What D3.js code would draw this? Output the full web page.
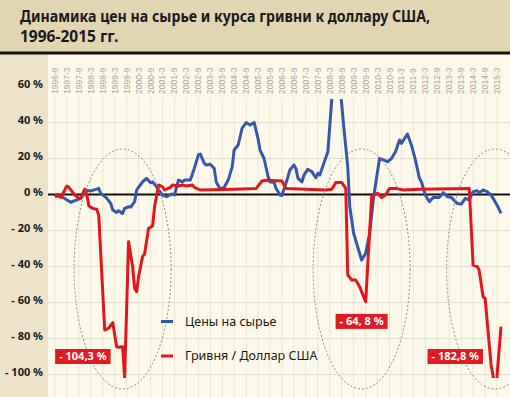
<!DOCTYPE html>
<html><head><meta charset="utf-8">
<script src="https://cdn.jsdelivr.net/npm/d3@7/dist/d3.min.js"></script>
<style>body{margin:0;background:#fdf9ea}svg{display:block}</style>
</head><body><svg id="c" width="510" height="397"></svg>
<script>
// ---- data ----
const tickLabels = ["1996-9","1997-3","1997-9","1998-3","1998-9","1999-3","1999-9","2000-3","2000-9","2001-3","2001-9","2002-3","2002-9","2003-3","2003-9","2004-3","2004-9","2005-3","2005-9","2006-3","2006-9","2007-3","2007-9","2008-3","2008-9","2009-3","2009-9","2010-3","2010-9","2011-3","2011-9","2012-3","2012-9","2013-3","2013-9","2014-3","2014-9","2015-3"];
const yTicks = [60,40,20,0,-20,-40,-60,-80,-100];

const commodity = [
["1996-09",-1],["1996-12",-1],["1997-05",-4.3],["1997-08",-3],["1997-10",-2],["1997-12",2.5],
["1998-03",2],["1998-06",3],["1998-07",3.4],["1998-08",0.6],["1998-11",-2],["1999-01",-5],
["1999-02",-8.6],["1999-04",-10],["1999-05",-9],["1999-07",-10.5],["1999-08",-7.7],["1999-10",-6.8],
["1999-11",-7],["2000-01",-4],["2000-02",2.5],["2000-03",4],["2000-05",7],["2000-07",9],
["2000-09",6.5],["2000-10",7],["2000-12",4.3],["2001-03",-0.3],["2001-05",-1.2],["2001-08",0.3],
["2001-09",-0.3],["2001-11",8],["2002-01",7],["2002-02",8],["2002-05",8],["2002-07",14.5],
["2002-09",22],["2002-10",22.5],["2002-12",17.3],["2003-01",16.4],["2003-03",16.8],["2003-05",14.5],
["2003-06",7],["2003-08",3],["2003-10",4],["2003-12",8],["2004-02",15.5],["2004-03",24.7],
["2004-05",27.5],["2004-07",36.8],["2004-09",40],["2004-11",38.6],["2005-01",40],["2005-03",31],
["2005-04",24.7],["2005-06",20],["2005-08",10],["2005-09",7],["2005-11",6.8],["2005-12",3.4],
["2006-02",-0.3],["2006-03",-0.6],["2006-05",6.2],["2006-07",13.6],["2006-09",16.4],["2006-10",14.5],
["2006-11",9],["2007-01",7],["2007-02",10.8],["2007-04",14],["2007-06",12.7],["2007-08",9.3],
["2007-09",11.8],["2007-10",10.8],["2007-12",17.3],["2008-02",23.8],["2008-04",53],["2008-06",85],
["2008-08",62],["2008-10",37.7],["2008-12",15.4],["2009-01",-6.8],["2009-03",-21.5],["2009-05",-29],
["2009-07",-36.4],["2009-09",-32.7],["2009-11",-21.5],["2010-01",-1.2],["2010-03",12.7],["2010-04",20],
["2010-06",19.2],["2010-08",18.2],["2010-10",20],["2010-12",23.8],["2011-02",30.3],["2011-03",28.4],
["2011-06",33.6],["2011-08",27.5],["2011-10",19.2],["2011-12",9],["2012-01",7],["2012-03",-0.3],
["2012-05",-4],["2012-07",-1.6],["2012-10",-1.6],["2012-12",1],["2013-02",-1.2],["2013-04",-1.6],
["2013-07",-5],["2013-09",-5.3],["2013-11",-2.1],["2014-01",-3],["2014-03",1.6],["2014-05",2.1],
["2014-06",1],["2014-08",2.5],["2014-10",1.6],["2014-12",-0.3],["2015-03",-5.8],["2015-05",-10.5]
];

const hryvnia = [
["1996-09",-1.2],["1996-10",0],["1996-12",-1.6],["1997-03",4.7],["1997-04",4],["1997-07",-0.3],
["1997-09",-2],["1997-10",-2],["1997-12",3],["1998-01",-0.3],["1998-02",-6.4],["1998-04",-7.7],
["1998-06",-8.2],["1998-07",-11.4],["1998-10",-75.3],["1998-12",-74.3],["1999-02",-71.2],["1999-04",-84.6],
["1999-05",-84.9],["1999-07",-84.6],["1999-08",-101.5],["1999-10",-26.2],["1999-12",-40],["2000-01",-52],
["2000-02",-54],["2000-03",-45.7],["2000-05",-34.5],["2000-06",-33],["2000-08",-18.8],["2000-10",-17.5],
["2000-11",-6.8],["2001-01",5.3],["2001-03",4.3],["2001-04",2.5],["2001-07",4],["2001-08",5.3],
["2001-11",4.7],["2002-01",5.3],["2002-03",4.7],["2002-06",5.3],["2002-07",4],["2002-10",2.5],
["2004-03",2.9],["2005-02",3.4],["2005-05",7.5],["2005-07",7.9],["2006-03",7.5],["2006-05",3.4],
["2008-01",2.5],["2008-04",2.9],["2008-06",6.6],["2008-09",6.6],["2008-11",3.4],["2008-12",-44.7],
["2009-02",-47.5],["2009-04",-47.5],["2009-06",-51.2],["2009-07",-54],["2009-09",-59.6],["2009-12",-1.2],
["2010-01",-0.3],["2010-03",0.7],["2010-05",-1.6],["2010-07",-0.3],["2010-09",3.4],["2010-12",3.4],
["2011-04",2.5],["2011-12",2.9],["2014-01",3.4],["2014-03",-39.2],["2014-05",-40],["2014-06",-42],
["2014-08",-56.8],["2014-09",-57.7],["2014-11",-82.7],["2014-12",-94.7],["2015-01",-101],["2015-02",-125],
["2015-03",-101],["2015-05",-73.4]
];

const seriesNames = ["Цены на сырье","Гривня / Доллар США"];
const crisisLabels = ["- 104,3 %","- 64, 8 %","- 182,8 %"];
const crisisCenters = ["1999-07","2009-07","2015-02"]; // ellipse centres (time)
const crisisLabelPos = [["1997-11",-90],["2009-07",-70.5],["2013-06",-90]];

// ---- setup ----
const parse = d3.timeParse("%Y-%m");
const svg = d3.select("#c");
const W = 510, H = 397;
const plotL = 48, plotTop = 99, plotBottom = 378;

const x = d3.scaleTime().domain([parse("1996-09"), parse("2015-03")]).range([55, 497]);
const y = d3.scaleLinear().domain([-100, 60]).range([374.5, 86.5]);

// backgrounds
svg.append("rect").attr("x",0).attr("y",0).attr("width",W).attr("height",52).attr("fill","#e2d5b1");
svg.append("rect").attr("x",0).attr("y",54).attr("width",plotL).attr("height",H-54).attr("fill","#ece3c9");
svg.append("rect").attr("x",plotL).attr("y",54).attr("width",W-plotL).attr("height",H-54).attr("fill","#fdf9ea");
svg.append("rect").attr("x",0).attr("y",51.5).attr("width",W).attr("height",3).attr("fill","#151515");

// title
const title = svg.append("g").attr("font-family","Noto Sans, sans-serif")
  .attr("font-weight","bold").attr("font-size",15.5).attr("fill","#1a1a1a");
title.append("text").attr("x",20).attr("y",21.5)
  .attr("textLength",410).attr("lengthAdjust","spacingAndGlyphs")
  .text("Динамика цен на сырье и курса гривни к доллару США,");
title.append("text").attr("x",20).attr("y",42).text("1996-2015 гг.");

// vertical grid
const tickDates = tickLabels.map(t => parse(t.replace(/-(\d)$/, "-0$1")));
svg.append("g").selectAll("line").data(tickDates).join("line")
  .attr("x1",d=>x(d)).attr("x2",d=>x(d)).attr("y1",97).attr("y2",H)
  .attr("stroke","#ece6d4").attr("stroke-width",1);

// horizontal grid
svg.append("g").selectAll("line").data(yTicks.filter(v=>v!==0 && v!==60)).join("line")
  .attr("x1",plotL).attr("x2",W).attr("y1",d=>y(d)).attr("y2",d=>y(d))
  .attr("stroke","#e3ded0").attr("stroke-width",1.2);

// x tick labels (rotated)
svg.append("g").selectAll("text").data(tickLabels).join("text")
  .attr("transform",(d,i)=>`translate(${x(tickDates[i])},94) rotate(-90)`)
  .attr("dy","0.35em").attr("text-anchor","start")
  .attr("font-family","Liberation Sans, Arial, sans-serif").attr("font-size",8.5)
  .attr("fill","#a8a49a").text(d=>d);

// y tick labels
svg.append("g").selectAll("text").data(yTicks).join("text")
  .attr("x",43).attr("y",d=>y(d)-2).attr("dy","0.35em").attr("text-anchor","end")
  .attr("font-family","Noto Sans, sans-serif").attr("font-weight","bold").attr("font-size",11)
  .attr("fill","#1a1a1a").text(d=> d<0 ? `- ${-d} %` : `${d} %`);

// zero line
svg.append("line").attr("x1",plotL).attr("x2",W).attr("y1",y(0)).attr("y2",y(0))
  .attr("stroke","#111").attr("stroke-width",1.8);

// clip
svg.append("clipPath").attr("id","pc").append("rect")
  .attr("x",plotL).attr("y",plotTop).attr("width",W-plotL).attr("height",plotBottom-plotTop);

const line = d3.line().x(d=>x(parse(d[0]))).y(d=>y(d[1]));
const g = svg.append("g").attr("clip-path","url(#pc)");
g.append("path").datum(commodity).attr("d",line).attr("fill","none")
  .attr("stroke","#3558aa").attr("stroke-width",3).attr("stroke-linejoin","round");
g.append("path").datum(hryvnia).attr("d",line).attr("fill","none")
  .attr("stroke","#e3161e").attr("stroke-width",3).attr("stroke-linejoin","round");

// ellipses
svg.append("g").selectAll("ellipse").data(crisisCenters).join("ellipse")
  .attr("cx",d=>x(parse(d))).attr("cy",269).attr("rx",48.5).attr("ry",120)
  .attr("fill","none").attr("stroke","#8a8a85").attr("stroke-width",1).attr("stroke-dasharray","2,2");

// legend
const colors = ["#3558aa","#e3161e"];
const leg = svg.append("g");
seriesNames.forEach((n,i)=>{
  const ly = 321.5 + i*34.5;
  leg.append("line").attr("x1",161).attr("x2",173).attr("y1",ly).attr("y2",ly)
    .attr("stroke",colors[i]).attr("stroke-width",3);
  leg.append("text").attr("x",185).attr("y",ly).attr("dy","0.35em")
    .attr("font-family","Noto Sans, sans-serif").attr("font-size",12.5).attr("fill","#1a1a1a").text(n);
});

// crisis labels
crisisLabels.forEach((t,i)=>{
  const cx = x(parse(crisisLabelPos[i][0])), cy = y(crisisLabelPos[i][1]);
  const gg = svg.append("g");
  const tx = gg.append("text").attr("x",cx).attr("y",cy).attr("dy","0.35em").attr("text-anchor","middle")
    .attr("font-family","Noto Sans, sans-serif").attr("font-weight","bold").attr("font-size",11)
    .attr("fill","#fff").text(t);
  const w = tx.node().getComputedTextLength() + 8;
  gg.insert("rect","text").attr("x",cx-w/2).attr("y",cy-7.5).attr("width",w).attr("height",15).attr("fill","#e01b22");
});
</script></body></html>
